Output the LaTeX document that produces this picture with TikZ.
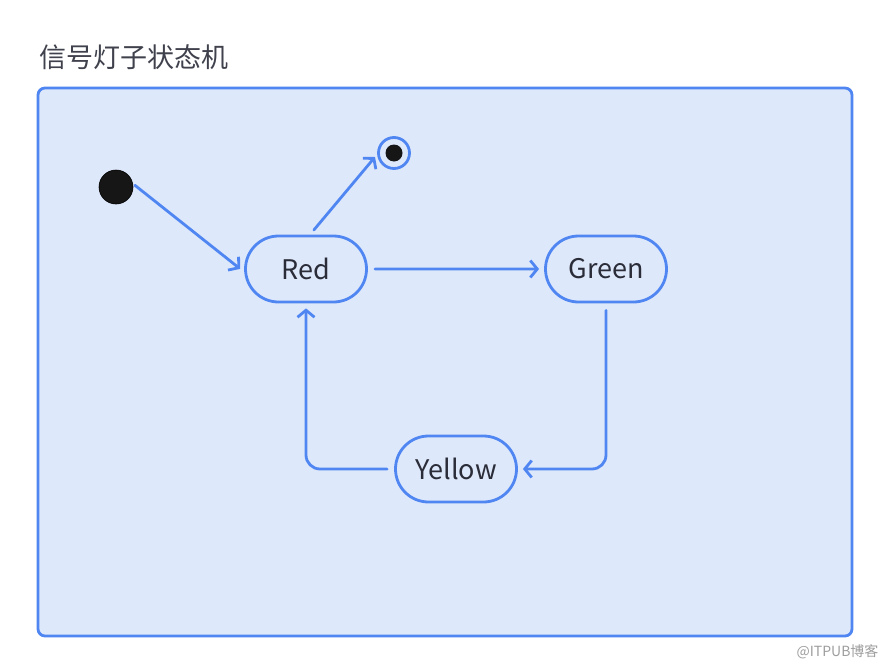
\documentclass[tikz,border=0pt]{standalone}
\usepackage{fontspec}
\setmainfont{Noto Sans CJK SC}
\usetikzlibrary{arrows.meta,shapes.misc}
\definecolor{lineblue}{HTML}{4F86F2}
\definecolor{panelfill}{HTML}{DEE8FB}
\definecolor{inktext}{HTML}{2A2C38}
\definecolor{dotblack}{HTML}{161616}
\tikzset{
  statebox/.style={rounded rectangle, draw=lineblue, line width=2.8pt, fill=panelfill,
    minimum width=121pt, minimum height=66pt, inner sep=0pt, text=inktext, font=\fontsize{27}{30}\selectfont},
  conn/.style={draw=lineblue, line width=2.8pt, line cap=round, line join=round,
    -{Straight Barb[length=7pt,width=17pt,line width=2.8pt]}, shorten >=5pt, shorten <=7pt},
}
\begin{document}
\begin{tikzpicture}[x=1pt,y=-1pt]
\useasboundingbox (0,0) rectangle (889,672);
\fill[white] (0,0) rectangle (889,672);
\node[anchor=west, text=inktext!90, font=\fontsize{27}{30}\selectfont] (title) at (36,57) {信号灯子状态机};
\draw[draw=lineblue, fill=panelfill, line width=2.8pt, rounded corners=7pt] (38,88) rectangle (852,636);
\node[circle, fill=dotblack, draw=black, line width=0.6pt, minimum size=34pt, inner sep=0pt] (start) at (116,187) {};
\node[circle, draw=lineblue, line width=2.8pt, fill=panelfill, minimum size=31pt, inner sep=0pt] (final) at (394,153) {};
\node[circle, fill=dotblack, minimum size=17pt, inner sep=0pt] (finaldot) at (394,153) {};
\node[statebox] (red) at (306,269) {Red};
\node[statebox] (green) at (606,269) {Green};
\node[statebox] (yellow) at (456,469) {Yellow};
\coordinate (finalin) at ([shift={(-19,4)}]final.center);
\draw[conn, shorten <=2pt] ([yshift=3pt]start.east) -- ([yshift=-3pt]red.west);
\draw[conn, shorten >=0pt, shorten <=6pt] ([xshift=4pt]red.north) -- (finalin);
\draw[conn] (red) -- (green);
\draw[conn, rounded corners=14pt] (green.south) -- (606,469) -- (yellow.east);
\draw[conn, rounded corners=14pt] (yellow.west) -- (306,469) -- (red.south);
\node[anchor=east, text=black!38, font=\fontsize{14}{16}\selectfont] (mark) at (882,652) {@ITPUB博客};
\end{tikzpicture}
\end{document}
